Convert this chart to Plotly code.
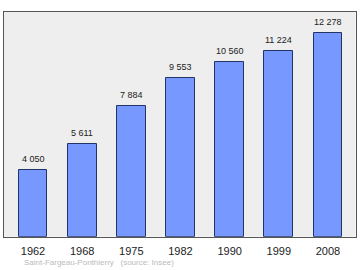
import plotly.graph_objects as go

years = ["1962", "1968", "1975", "1982", "1990", "1999", "2008"]
population = [4050, 5611, 7884, 9553, 10560, 11224, 12278]
labels = ["4 050", "5 611", "7 884", "9 553", "10 560", "11 224", "12 278"]

W, H = 360, 270
left, right, top, bottom = 4, 355.5, 12, 236.7

xs = list(range(len(years)))

fig = go.Figure()
fig.add_trace(go.Bar(
    x=xs, y=population, width=0.583,
    marker=dict(color="#7799ff", line=dict(color="#223366", width=1)),
    hoverinfo="skip",
))

for x, v, t in zip(xs, population, labels):
    fig.add_annotation(x=x, y=v, text=t, showarrow=False, yanchor="bottom",
                       yshift=4, font=dict(family="Liberation Sans, Arial", size=9, color="#222222"))

fig.add_annotation(xref="paper", yref="paper", x=22 / W,
                   y=(H - 262.5) / H, xanchor="left", yanchor="middle", showarrow=False,
                   text="Saint-Fargeau-Ponthierry&nbsp;&nbsp;&nbsp;(source: Insee)",
                   font=dict(family="Liberation Sans, Arial", size=8, color="#bbbbbb"))

fig.update_layout(
    width=W, height=H,
    margin=dict(l=0, r=0, t=0, b=0),
    paper_bgcolor="white",
    plot_bgcolor="#eeeeee",
    showlegend=False,
    bargap=0,
)
fig.update_xaxes(
    domain=[left / W, right / W],
    range=[-0.59, 6.56],
    tickvals=xs, ticktext=years,
    tickfont=dict(family="Liberation Sans, Arial", size=11, color="#222222"),
    showline=True, mirror=True, linecolor="#555555", linewidth=1,
    showgrid=False, zeroline=False, ticks="", ticklabelstandoff=4,
)
fig.update_yaxes(
    domain=[(H - bottom) / H, (H - top) / H],
    range=[0, 13560],
    showticklabels=False, showgrid=False, zeroline=False,
    showline=True, mirror=True, linecolor="#555555", linewidth=1, ticks="",
)

fig.write_html("out.html")
